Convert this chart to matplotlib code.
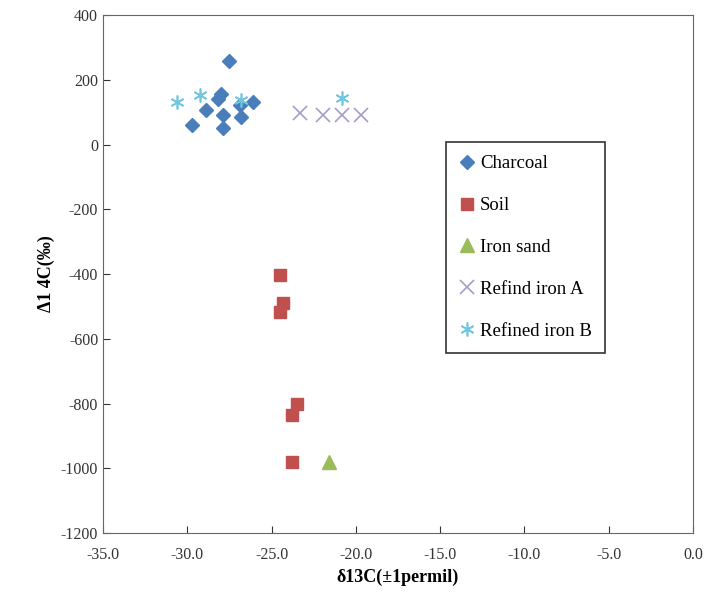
import numpy as np
import matplotlib
matplotlib.use('Agg')
from matplotlib import pyplot as plt

# delta13C (x) and Delta14C (y)
charcoal_x = [-27.5, -28.0, -28.2, -28.9, -27.9, -26.8, -26.1, -29.7, -27.9, -26.9]
charcoal_y = [258, 155, 140, 107, 91, 86, 132, 60, 50, 122]

soil_x = [-24.5, -24.3, -24.5, -23.5, -23.8, -23.8]
soil_y = [-403, -490, -516, -800, -836, -981]

sand_x = [-21.6]
sand_y = [-980]

ironA_x = [-23.3, -21.95, -20.8, -19.7]
ironA_y = [97, 91, 91, 91]

ironB_x = [-30.6, -29.25, -26.8, -20.8]
ironB_y = [132, 153, 137, 144]

xticks = np.arange(-35, 1, 5)
yticks = np.arange(-1200, 401, 200)

plt.rcParams['font.family'] = ['Liberation Serif', 'DejaVu Serif']
plt.rcParams['axes.unicode_minus'] = False

fig = plt.figure(figsize=[7.04, 6.05], dpi=100, facecolor='w')
ax = fig.add_axes([0.1463, 0.119, 0.838, 0.856])

ax.plot(charcoal_x, charcoal_y, 'D', color='#4A7EBB', markersize=7.5, label='Charcoal')
ax.plot(soil_x, soil_y, 's', color='#C0504D', markersize=9, label='Soil')
ax.plot(sand_x, sand_y, '^', color='#9BBB59', markersize=10, label='Iron sand')
ax.plot(ironA_x, ironA_y, 'x', color='#A99BC8', markersize=10, mew=1.2, label='Refind iron A')
ax.plot(ironB_x, ironB_y, marker=(6, 2, 0), ls='none', color='#6FC6DE', markersize=10,
        mew=1.2, label='Refined iron B')

ax.set_xlim(-35, 0)
ax.set_ylim(-1200, 400)
ax.set_xticks(xticks)
ax.set_xticklabels(['%.1f' % t for t in xticks])
ax.set_yticks(yticks)
ax.tick_params(direction='in', length=5, labelsize=11.5, colors='#333333')
ax.tick_params(axis='x', pad=10)
for s in ax.spines.values():
    s.set_color('#666666')

ax.set_xlabel('δ13C(±1permil)', fontsize=13, fontweight='bold')
ax.set_ylabel('Δ1 4C(‰)', fontsize=13, fontweight='bold')

leg = ax.legend(loc='upper left', bbox_to_anchor=(0.582, 0.755), fontsize=13.5,
                frameon=True, fancybox=False, edgecolor='black',
                handlelength=0.8, handletextpad=0.3, labelspacing=1.32,
                borderpad=0.7, borderaxespad=0)
leg.get_frame().set_linewidth(1.2)

fig.savefig('out.png', dpi=100)
